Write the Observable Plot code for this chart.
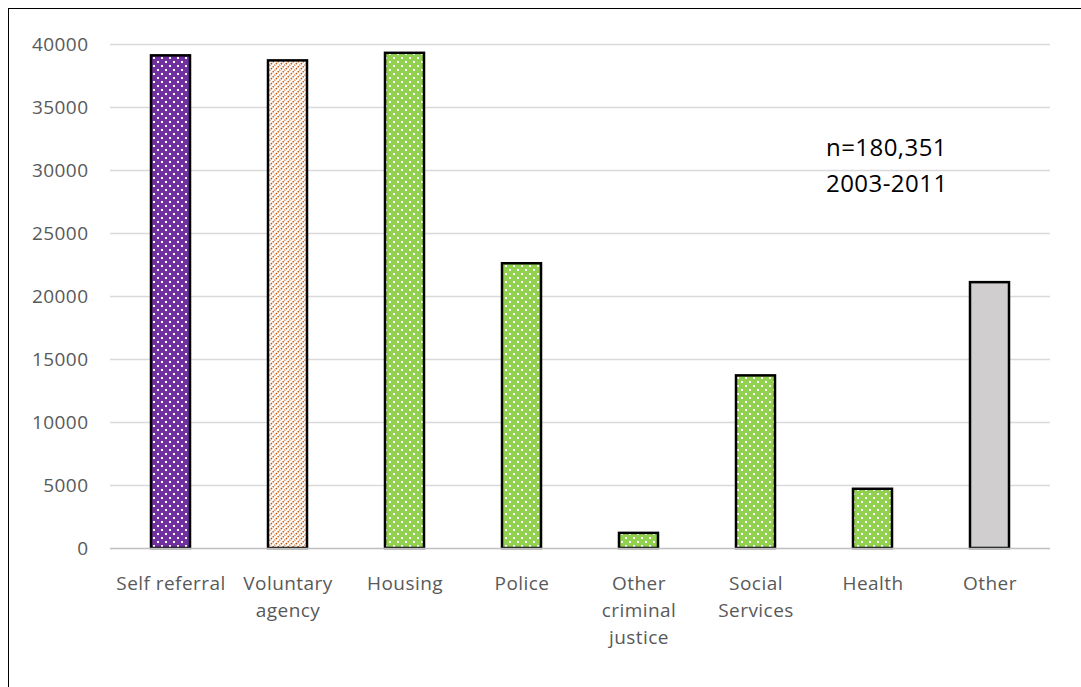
<!DOCTYPE html>
<html>
<head>
<meta charset="utf-8">
<script src="https://cdn.jsdelivr.net/npm/d3@7"></script>
<script src="https://cdn.jsdelivr.net/npm/@observablehq/plot@0.6"></script>
<style>
  html, body { margin: 0; padding: 0; background: #fff; overflow: hidden; width: 1081px; height: 687px; }
  #frame { position: absolute; left: 8px; top: 8px; width: 1200px; height: 800px; border: 1px solid #000; box-sizing: border-box; }
  #chart { position: absolute; left: 0; top: 0; }
  #chart svg text { letter-spacing: 0.45px; }
</style>
</head>
<body>
<div id="frame"></div>
<div id="chart"></div>
<script>
const categories = ["Self referral", "Voluntary agency", "Housing", "Police", "Other criminal justice", "Social Services", "Health", "Other"];
const tickLabels = ["Self referral", "Voluntary\nagency", "Housing", "Police", "Other\ncriminal\njustice", "Social\nServices", "Health", "Other"];
const values = [39100, 38700, 39300, 22600, 1200, 13700, 4700, 21100];
const fillPatterns = ["url(#dotsPurple)", "url(#diagOrange)", "url(#dotsGreen)", "url(#dotsGreen)", "url(#dotsGreen)", "url(#dotsGreen)", "url(#dotsGreen)", "#D0CECE"];
const yTicks = [0, 5000, 10000, 15000, 20000, 25000, 30000, 35000, 40000];
const annotationText = "n=180,351\n2003-2011";
const annotationCategory = "Health";
const annotationY = 30600;

const data = categories.map((c, i) => ({category: c, value: values[i]}));
const labelOf = new Map(categories.map((c, i) => [c, tickLabels[i]]));

const chart = Plot.plot({
  width: 1081,
  height: 687,
  marginLeft: 110,
  marginRight: 31,
  marginTop: 44,
  marginBottom: 139,
  style: {fontFamily: "'Open Sans', sans-serif", background: "transparent"},
  x: {domain: categories, paddingInner: 0.665, paddingOuter: 0.3325, label: null},
  y: {domain: [0, 40000], label: null},
  color: {type: "ordinal", domain: categories, range: fillPatterns},
  marks: [
    Plot.gridY(yTicks.filter(d => d > 0), {stroke: "#d9d9d9", strokeOpacity: 1, strokeWidth: 1.3}),
    Plot.axisY({ticks: yTicks, tickSize: 0, tickPadding: 22, fontSize: 19, fill: "#595959", label: null, tickFormat: d => String(d)}),
    Plot.axisX({tickSize: 0, tickPadding: 22, fontSize: 19, fill: "#595959", lineHeight: 1.42, label: null, tickFormat: d => labelOf.get(d)}),
    Plot.barY(data, {x: "category", y: "value", fill: "category", stroke: "#000", strokeWidth: 2.5}),
    Plot.ruleY([0], {stroke: "#bfbfbf", strokeWidth: 1.5}),
    Plot.text([annotationText], {x: () => annotationCategory, y: () => annotationY, text: d => d, textAnchor: "start", dx: -47, fontSize: 24, lineHeight: 1.5, fill: "#000", lineAnchor: "middle"})
  ]
});

const svg = d3.select(chart);
const defs = svg.insert("defs", ":first-child");
function dots(id, color) {
  const p = defs.append("pattern").attr("id", id).attr("patternUnits", "userSpaceOnUse").attr("width", 8).attr("height", 8);
  p.append("rect").attr("width", 8).attr("height", 8).attr("fill", color);
  p.append("rect").attr("x", 1).attr("y", 1).attr("width", 2).attr("height", 2).attr("fill", "#fff");
  p.append("rect").attr("x", 5).attr("y", 5).attr("width", 2).attr("height", 2).attr("fill", "#fff");
}
dots("dotsPurple", "#7030A0");
dots("dotsGreen", "#92D050");
const dg = defs.append("pattern").attr("id", "diagOrange").attr("patternUnits", "userSpaceOnUse").attr("width", 5).attr("height", 5);
dg.append("rect").attr("width", 5).attr("height", 5).attr("fill", "#fff");
dg.append("path").attr("d", "M-1,6 L6,-1 M-1,1 L1,-1 M4,6 L6,4").attr("stroke", "#C55A11").attr("stroke-width", 1.5).attr("stroke-dasharray", "1.6 1");

document.getElementById("chart").appendChild(chart);
</script>
</body>
</html>
